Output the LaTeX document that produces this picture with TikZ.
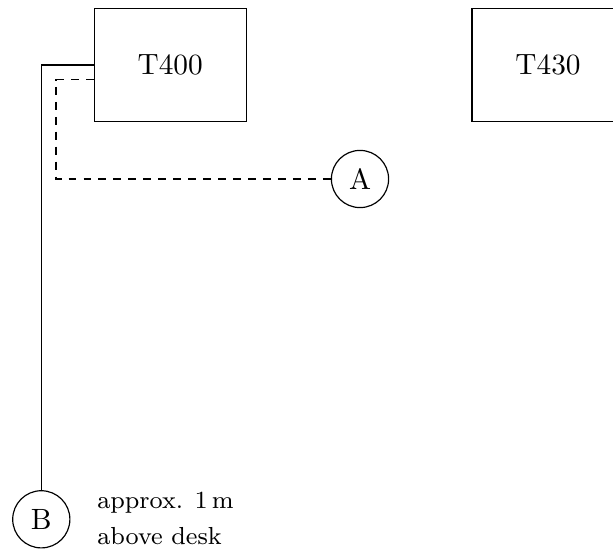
\documentclass[tikz,border=0pt]{standalone}
\usetikzlibrary{calc}
\begin{document}
\begin{tikzpicture}[x=0.341pt,y=-0.341pt,
  desk/.style={draw,rectangle,minimum width=51.8pt,minimum height=38.7pt,inner sep=0pt},
  spot/.style={draw,circle,minimum size=19.5pt,inner sep=0pt},
  cable/.style={line width=0.4pt},
  wifi/.style={cable,dash pattern=on 2.7pt off 2.4pt},
  note/.style={align=left,font={\fontsize{8.4}{12}\selectfont},inner sep=0pt,anchor=base west}]
  \useasboundingbox (0,0) rectangle (613,551);
  \node[desk] (T400) at (170.2,65) {T400};
  \node[desk] (T430) at (548,65) {T430};
  \node[spot] (A) at (360,179) {A};
  \node[spot] (B) at (41.3,519.3) {B};
  \coordinate (bend) at (56,179);
  \draw[cable] (T400.west) -| (B.north);
  \draw[wifi] ([yshift=-5pt]T400.west) -| (bend) -- (A.west);
  \node[note] (h) at (96.7,544) {approx. 1\,m\\above desk};
\end{tikzpicture}
\end{document}
